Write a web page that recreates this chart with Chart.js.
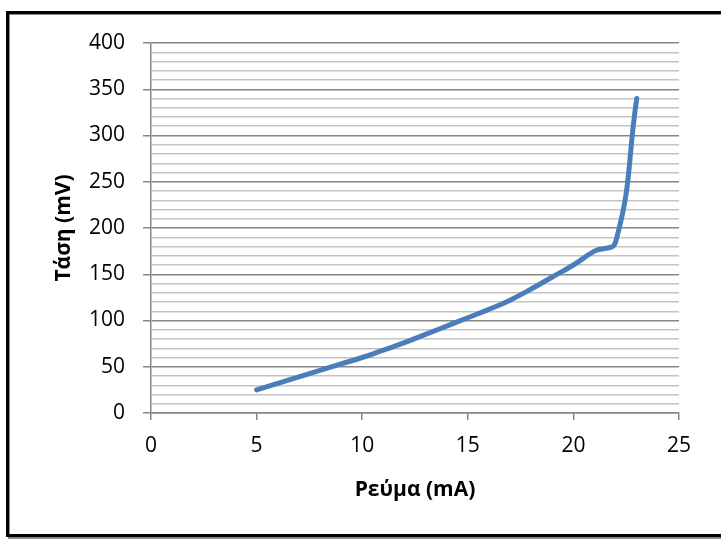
<!DOCTYPE html>
<html>
<head>
<meta charset="utf-8">
<script src="https://cdn.jsdelivr.net/npm/chart.js@4/dist/chart.umd.min.js"></script>
<style>
  html, body { margin: 0; padding: 0; background: #fff; }
  #wrap { position: relative; width: 721px; height: 540px; }
</style>
</head>
<body>
<div id="wrap"><canvas id="chart1" width="721" height="540"></canvas></div>
<script>
// current (mA) and voltage (mV)
var current = [5, 6, 7, 8, 9, 10, 11, 12, 13, 14, 15, 16, 17, 18, 19, 20, 21, 22, 23];
var voltage = [25, 32, 39, 46, 53, 60, 68, 76, 85, 94, 103, 112, 122, 134, 147, 160, 175, 185, 340];

var xTitle = 'Ρεύμα (mA)';
var yTitle = 'Τάση (mV)';

var points = current.map(function(c, i) { return {x: c, y: voltage[i]}; });

// outer frame like the excel chart border
var framePlugin = {
  id: 'frame',
  afterDraw: function(chart) {
    var ctx = chart.ctx;
    ctx.save();
    ctx.strokeStyle = '#8a8a8a';
    ctx.lineWidth = 2;
    ctx.strokeRect(9, 14, 760, 524);
    ctx.strokeStyle = '#000';
    ctx.lineWidth = 3;
    ctx.strokeRect(7.5, 12.5, 760, 523);
    ctx.restore();
  }
};

var isMajor = function(v) { return v % 50 === 0; };

var config = {
  type: 'scatter',
  data: {
    datasets: [
      {
        data: points,
        showLine: true,
        borderColor: '#4a7ebb',
        borderWidth: 5,
        borderCapStyle: 'round',
        pointRadius: 0,
        tension: 0.45
      }
    ]
  },
  options: {
    responsive: false,
    animation: false,
    layout: { padding: { left: 0, top: 43, right: 42, bottom: 0 } },
    plugins: { legend: { display: false }, tooltip: { enabled: false } },
    scales: {
      x: {
        type: 'linear',
        min: 0,
        max: 25,
        afterFit: function(s) { s.height = 127; },
        ticks: { stepSize: 5, color: '#000', padding: 13, font: { family: 'Open Sans', size: 21 } },
        grid: { drawOnChartArea: false, tickLength: 7, color: '#868686', lineWidth: 1.5 },
        border: { color: '#868686', width: 1.5 },
        title: {
          display: true,
          text: xTitle,
          color: '#000',
          font: { family: 'Open Sans', size: 21, weight: 'bold' },
          padding: { top: 0, bottom: 37 }
        }
      },
      y: {
        min: 0,
        max: 400,
        afterFit: function(s) { s.width = 151; },
        ticks: {
          stepSize: 10,
          autoSkip: false,
          color: '#000',
          padding: 18,
          font: { family: 'Open Sans', size: 21 },
          callback: function(v) { return isMajor(v) ? v : ''; }
        },
        grid: {
          tickLength: 8,
          color: function(c) { return isMajor(c.tick.value) ? '#868686' : '#c4c4c4'; },
          tickColor: function(c) { return isMajor(c.tick.value) ? '#868686' : 'rgba(0,0,0,0)'; },
          lineWidth: 1.5
        },
        border: { color: '#868686', width: 1.5 },
        title: {
          display: true,
          text: yTitle,
          color: '#000',
          font: { family: 'Open Sans', size: 21, weight: 'bold' },
          padding: { top: 51, bottom: 0 }
        }
      }
    }
  },
  plugins: [framePlugin]
};

var chart = new Chart(document.getElementById('chart1'), config);
</script>
</body>
</html>
